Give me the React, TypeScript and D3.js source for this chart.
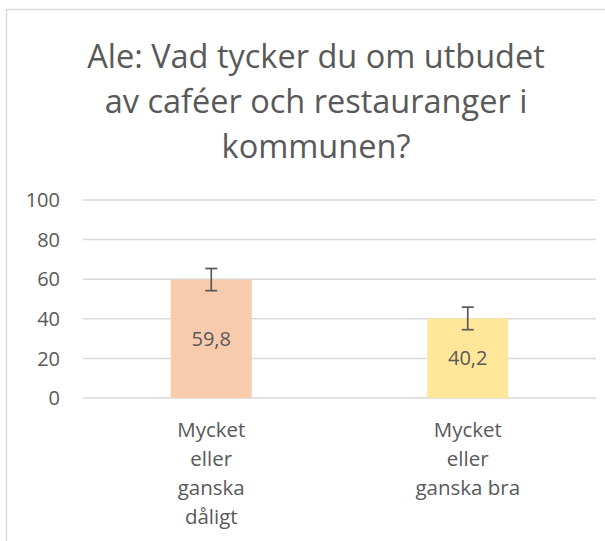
import React from "react";
import * as d3 from "d3";

const titleLines = ["Ale: Vad tycker du om utbudet", "av caféer och restauranger i", "kommunen?"];
const categories = ["Mycket eller ganska dåligt", "Mycket eller ganska bra"];
const categoryLines = [["Mycket", "eller", "ganska", "dåligt"], ["Mycket", "eller", "ganska bra"]];
const values = [59.8, 40.2];
const errors = [5.6, 5.7];
const barColors = ["#F8CBAD", "#FFE699"];
const yTicks = [0, 20, 40, 60, 80, 100];

const textColor = "#595959";
const gridColor = "#D9D9D9";
const font = "'Open Sans', 'Noto Sans', sans-serif";

export default function App() {
  const width = 605;
  const height = 541;

  const x = d3.scaleBand<string>()
    .domain(categories)
    .range([83, 596])
    .paddingInner(0.684)
    .paddingOuter(0.342);

  const y = d3.scaleLinear().domain([0, 100]).range([398, 200]);

  return (
    <svg width={width} height={height} style={{ position: "absolute", left: 0, top: 0, background: "#fff" }} fontFamily={font}>
      {/* chart frame, cropped at right and bottom */}
      <rect x={6.5} y={9.5} width={700} height={600} fill="#fff" stroke={gridColor} strokeWidth={1.5} />

      {/* title */}
      {titleLines.map((line, i) => (
        <text key={i} x={316} y={68 + i * 45} textAnchor="middle" fontSize={32.5} fill={textColor}>{line}</text>
      ))}

      {/* gridlines + y labels */}
      {yTicks.map(t => (
        <g key={t}>
          <line x1={83} x2={596} y1={y(t)} y2={y(t)} stroke={gridColor} strokeWidth={1.5} />
          <text x={60} y={y(t)} dy="0.36em" textAnchor="end" fontSize={20} fill={textColor}>{t}</text>
        </g>
      ))}

      {/* bars */}
      {categories.map((c, i) => {
        const bx = x(c)!;
        const bw = x.bandwidth();
        const cx = bx + bw / 2;
        return (
          <g key={c}>
            <rect x={bx} y={y(values[i])} width={bw} height={y(0) - y(values[i])} fill={barColors[i]} />
            <g stroke={textColor} strokeWidth={1.7}>
              <line x1={cx} x2={cx} y1={y(values[i] + errors[i])} y2={y(values[i] - errors[i])} />
              <line x1={cx - 6} x2={cx + 6} y1={y(values[i] + errors[i])} y2={y(values[i] + errors[i])} />
              <line x1={cx - 6} x2={cx + 6} y1={y(values[i] - errors[i])} y2={y(values[i] - errors[i])} />
            </g>
            <text x={cx} y={y(values[i] / 2)} dy="0.36em" textAnchor="middle" fontSize={20} fill={textColor}>
              {values[i].toFixed(1).replace(".", ",")}
            </text>
            {categoryLines[i].map((ln, j) => (
              <text key={j} x={cx} y={437 + j * 29} textAnchor="middle" fontSize={20.5} fill={textColor}>{ln}</text>
            ))}
          </g>
        );
      })}
    </svg>
  );
}
